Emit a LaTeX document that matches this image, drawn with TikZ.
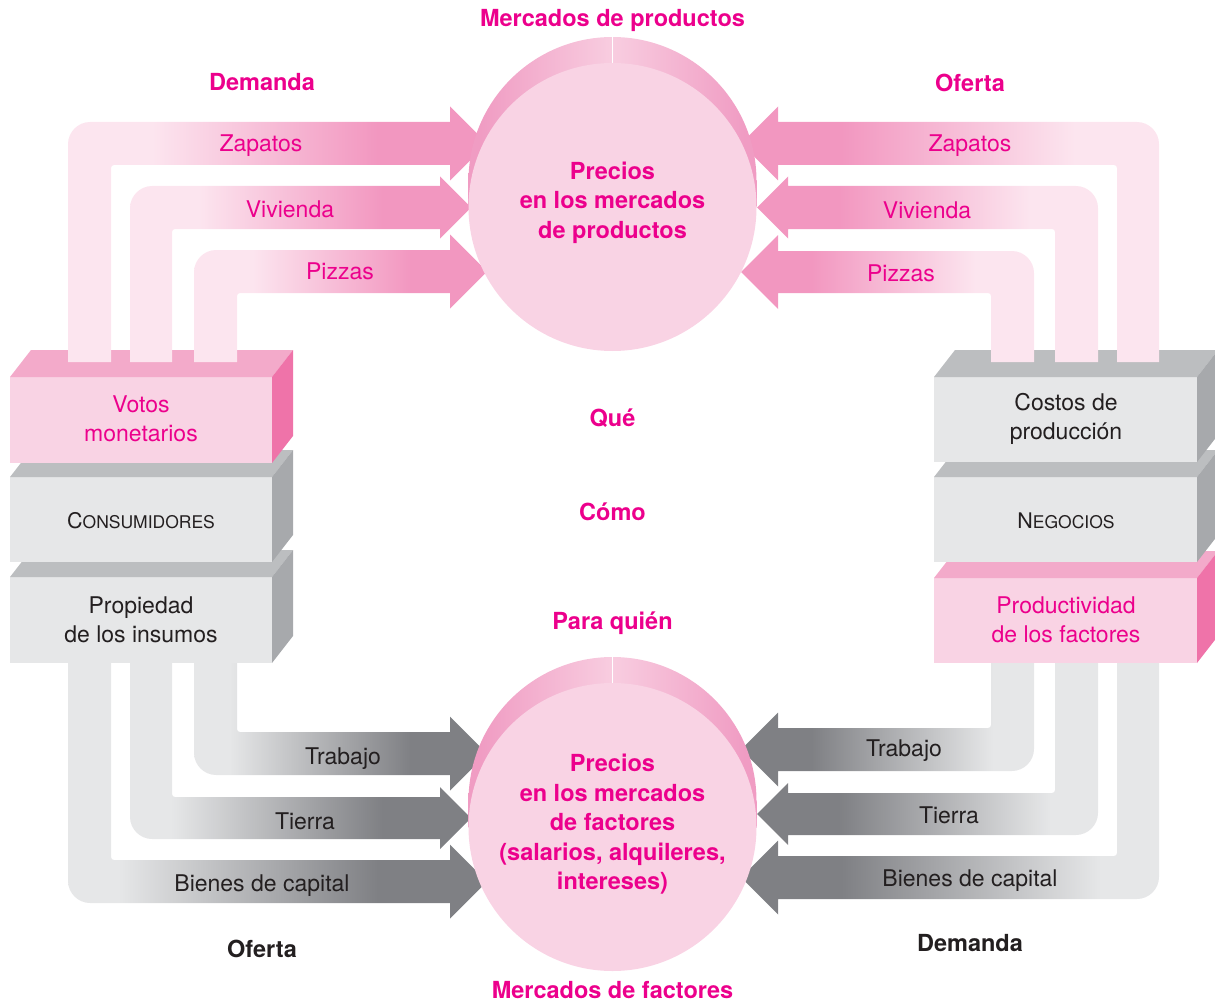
\documentclass[tikz,border=0pt]{standalone}
\usepackage{fontspec}
\setmainfont{TeX Gyre Heros}
\definecolor{mag}{HTML}{EC008C}
\definecolor{txt}{HTML}{231F20}
\definecolor{pkL}{HTML}{FCE5EF}
\definecolor{pkD}{HTML}{F297C0}
\definecolor{gyL}{HTML}{E6E7E8}
\definecolor{gyD}{HTML}{7F8084}
\definecolor{pkFront}{HTML}{F9D3E4}
\definecolor{pkTop}{HTML}{F3AACA}
\definecolor{pkSide}{HTML}{EF73A9}
\definecolor{gyFront}{HTML}{E6E7E8}
\definecolor{gyTop}{HTML}{BCBEC0}
\definecolor{gySide}{HTML}{A7A9AC}
\definecolor{cylD}{HTML}{F09CC3}
\definecolor{cylL}{HTML}{F8CDE0}
\pgfdeclarehorizontalshading{pinkLR}{100bp}{color(0bp)=(pkL); color(35bp)=(pkL); color(62bp)=(pkD); color(100bp)=(pkD)}
\pgfdeclarehorizontalshading{pinkRL}{100bp}{color(0bp)=(pkD); color(37bp)=(pkD); color(65bp)=(pkL); color(100bp)=(pkL)}
\pgfdeclarehorizontalshading{grayLR}{100bp}{color(0bp)=(gyL); color(31bp)=(gyL); color(62bp)=(gyD); color(100bp)=(gyD)}
\pgfdeclarehorizontalshading{grayRL}{100bp}{color(0bp)=(gyD); color(37bp)=(gyD); color(68bp)=(gyL); color(100bp)=(gyL)}
\pgfdeclarehorizontalshading{cylsh}{100bp}{color(0bp)=(cylD); color(27bp)=(cylD); color(50bp)=(cylL); color(73bp)=(cylD); color(100bp)=(cylD)}
% band: #1 a, #2 b (vertical x range), #3 t, #4 u (horizontal y range), #5 end y of vertical, #6 head base x, #7 head half height, #8 shading
\newcommand{\bandTL}[8]{%
 \pgfmathsetmacro{\bc}{(#3+#4)/2}%
 \shade[shading=#8] ({#1},{#5}) -- ({#1},{#3+22}) .. controls ({#1},{#3+10}) and ({#1+10},{#3}) .. ({#1+22},{#3}) -- ({#6},{#3}) -- ({#6},{\bc-#7}) -- ({#6+#7},{\bc}) -- ({#6},{\bc+#7}) -- ({#6},{#4}) -- ({#2+3},{#4}) .. controls ({#2+1.3},{#4}) and ({#2},{#4+1.3}) .. ({#2},{#4+3}) -- ({#2},{#5}) -- cycle;}
\newcommand{\bandTR}[8]{%
 \pgfmathsetmacro{\bc}{(#3+#4)/2}%
 \shade[shading=#8] ({#2},{#5}) -- ({#2},{#3+22}) .. controls ({#2},{#3+10}) and ({#2-10},{#3}) .. ({#2-22},{#3}) -- ({#6},{#3}) -- ({#6},{\bc-#7}) -- ({#6-#7},{\bc}) -- ({#6},{\bc+#7}) -- ({#6},{#4}) -- ({#1-3},{#4}) .. controls ({#1-1.3},{#4}) and ({#1},{#4+1.3}) .. ({#1},{#4+3}) -- ({#1},{#5}) -- cycle;}
\newcommand{\bandBL}[8]{%
 \pgfmathsetmacro{\bc}{(#3+#4)/2}%
 \shade[shading=#8] ({#1},{#5}) -- ({#1},{#4-22}) .. controls ({#1},{#4-10}) and ({#1+10},{#4}) .. ({#1+22},{#4}) -- ({#6},{#4}) -- ({#6},{\bc+#7}) -- ({#6+#7},{\bc}) -- ({#6},{\bc-#7}) -- ({#6},{#3}) -- ({#2+3},{#3}) .. controls ({#2+1.3},{#3}) and ({#2},{#3-1.3}) .. ({#2},{#3-3}) -- ({#2},{#5}) -- cycle;}
\newcommand{\bandBR}[8]{%
 \pgfmathsetmacro{\bc}{(#3+#4)/2}%
 \shade[shading=#8] ({#2},{#5}) -- ({#2},{#4-22}) .. controls ({#2},{#4-10}) and ({#2-10},{#4}) .. ({#2-22},{#4}) -- ({#6},{#4}) -- ({#6},{\bc+#7}) -- ({#6-#7},{\bc}) -- ({#6},{\bc-#7}) -- ({#6},{#3}) -- ({#1-3},{#3}) .. controls ({#1-1.3},{#3}) and ({#1},{#3-1.3}) .. ({#1},{#3-3}) -- ({#1},{#5}) -- cycle;}
% 3d box: #1 x0, #2 x1, #3 y0 (top of front), #4 y1, #5 front, #6 top, #7 side
\newcommand{\boxthree}[7]{%
 \fill[#5] ({#1},{#3}) rectangle ({#2},{#4});
 \fill[#6] ({#1},{#3}) -- ({#1+21},{#3-27}) -- ({#2+21},{#3-27}) -- ({#2},{#3}) -- cycle;
 \fill[#7] ({#2},{#3}) -- ({#2+21},{#3-27}) -- ({#2+21},{#4-27}) -- ({#2},{#4}) -- cycle;}
% cylinder back part: #1 cx, #2 cy (front centre)
\newcommand{\cylback}[2]{%
 \shade[shading=cylsh] ({#1},{#2-26}) circle[radius=144];
 \shade[shading=cylsh] ({#1-144},{#2-26}) rectangle ({#1+144},{#2});
 \draw[white, line width=0.5pt] ({#1},{#2-172}) -- ({#1},{#2-140});}
\tikzset{
 lbl/.style={font=\fontsize{23}{29}\selectfont, inner sep=0pt, align=center, yshift=-2.5pt},
 maglbl/.style={lbl, text=mag},
 graylbl/.style={lbl, text=txt},
 bold/.style={font=\fontsize{23.5}{29.5}\selectfont\bfseries, inner sep=0pt, align=center, yshift=-2.5pt},
 magbold/.style={bold, text=mag},
 blkbold/.style={bold, text=txt},
 basebold/.style={font=\fontsize{23.5}{29.5}\selectfont\bfseries, inner sep=0pt, anchor=base, text=mag},
 market/.style={circle, fill=pkFront, minimum size=288pt, inner sep=0pt}
}
\begin{document}
\begin{tikzpicture}[x=1pt, y=-1pt]
\useasboundingbox (0,0) rectangle (1215,1003);
% bottom bands (gray)
\bandBL{194}{237}{732}{775}{650}{450}{37}{grayLR}
\bandBL{130}{172}{797}{839}{650}{440}{31}{grayLR}
\bandBL{68}{111}{860}{903}{650}{450}{37}{grayLR}
\bandBR{991}{1034}{728}{771}{650}{778}{37}{grayRL}
\bandBR{1055}{1098}{793}{835}{650}{788}{31}{grayRL}
\bandBR{1117}{1159}{856}{899}{650}{778}{37}{grayRL}
% boxes left
\boxthree{10}{272}{577}{663}{gyFront}{gyTop}{gySide}
\boxthree{10}{272}{477}{562}{gyFront}{gyTop}{gySide}
\boxthree{10}{272}{377}{463}{pkFront}{pkTop}{pkSide}
% boxes right
\boxthree{934}{1197}{578}{663}{pkFront}{pkTop}{pkSide}
\boxthree{934}{1197}{477}{562}{gyFront}{gyTop}{gySide}
\boxthree{934}{1197}{377}{462}{gyFront}{gyTop}{gySide}
% top bands (pink)
\bandTL{68}{111}{122}{165}{362}{450}{37}{pinkLR}
\bandTL{130}{172}{186}{229}{362}{440}{31}{pinkLR}
\bandTL{194}{237}{250}{293}{362}{450}{37}{pinkLR}
\bandTR{1117}{1159}{122}{165}{362}{778}{37}{pinkRL}
\bandTR{1055}{1098}{186}{229}{362}{788}{31}{pinkRL}
\bandTR{991}{1034}{251}{293}{362}{778}{37}{pinkRL}
% markets
\cylback{612.5}{207}
\node[market] (pm) at (612.5,207) {};
\cylback{612.5}{827}
\node[market] (fm) at (612.5,827) {};
% circle texts
\node[magbold] (pmt) at (612.5,200) {Precios\\en los mercados\\de productos};
\node[magbold] (fmt) at (612.5,822) {Precios\\en los mercados\\de factores\\(salarios, alquileres,\\intereses)};
% headings
\node[magbold] (mp) at (612.5,18) {Mercados de productos};
\node[basebold] (mf) at (612.5,998) {Mercados de factores};
\node[magbold] (dem) at (262,80) {Demanda};
\node[magbold] (ofe) at (970,80) {Oferta};
\node[blkbold] (ofe2) at (262,946) {Oferta};
\node[blkbold] (dem2) at (970,941) {Demanda};
\node[magbold] (que) at (612.5,416) {Qué};
\node[magbold] (como) at (612.5,509) {Cómo};
\node[magbold] (para) at (612.5,621) {Para quién};
% band labels
\node[maglbl] (lz) at (261,143) {Zapatos};
\node[maglbl] (lv) at (290,207) {Vivienda};
\node[maglbl] (lp) at (340,269) {Pizzas};
\node[maglbl] (rz) at (970,143) {Zapatos};
\node[maglbl] (rv) at (927,208) {Vivienda};
\node[maglbl] (rp) at (901,271) {Pizzas};
\node[graylbl] (lt) at (343,756) {Trabajo};
\node[graylbl] (lti) at (305,819) {Tierra};
\node[graylbl] (lb) at (262,883) {Bienes de capital};
\node[graylbl] (rt) at (904,748) {Trabajo};
\node[graylbl] (rti) at (949,813) {Tierra};
\node[graylbl] (rb) at (970,878) {Bienes de capital};
% box labels
\node[maglbl] (votos) at (141,416) {Votos\\monetarios};
\node[graylbl] (cons) at (141,518) {{\fontsize{21.5}{26}\selectfont C}{\fontsize{17.5}{26}\selectfont ONSUMIDORES}};
\node[graylbl] (prop) at (141,617) {Propiedad\\de los insumos};
\node[graylbl] (cost) at (1066,416) {Costos de\\producción};
\node[graylbl] (neg) at (1066,518) {{\fontsize{21.5}{26}\selectfont N}{\fontsize{17.5}{26}\selectfont EGOCIOS}};
\node[maglbl] (prod) at (1066,617) {Productividad\\de los factores};
\end{tikzpicture}
\end{document}
